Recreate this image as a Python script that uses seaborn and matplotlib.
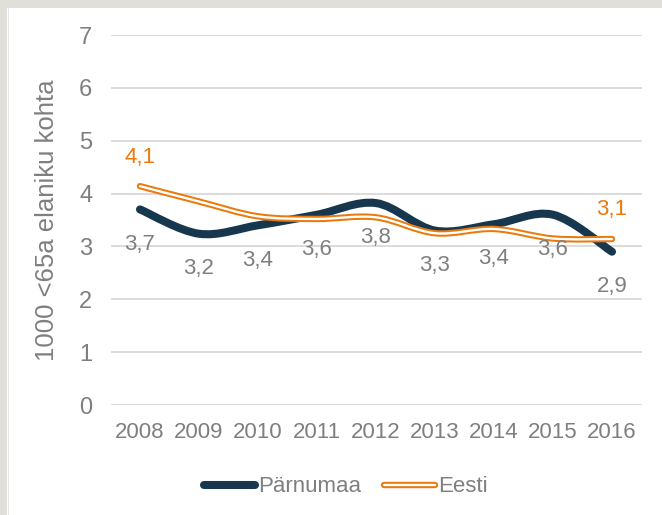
import numpy as np
import pandas as pd
import seaborn as sns
import matplotlib
matplotlib.use("Agg")
import matplotlib.pyplot as plt
from matplotlib.path import Path
from matplotlib.patches import PathPatch, Rectangle
from matplotlib.lines import Line2D
from matplotlib.legend_handler import HandlerTuple

# ---- data ----
years = ["2008", "2009", "2010", "2011", "2012", "2013", "2014", "2015", "2016"]
parnumaa = [3.70, 3.24, 3.40, 3.60, 3.82, 3.30, 3.42, 3.60, 2.90]
eesti = [4.14, 3.85, 3.57, 3.52, 3.55, 3.25, 3.33, 3.15, 3.14]
series_names = ["Pärnumaa", "Eesti"]
y_ticks = [0, 1, 2, 3, 4, 5, 6, 7]
y_label = "1000 <65a elaniku kohta"

df = pd.DataFrame({"year": years, "Pärnumaa": parnumaa, "Eesti": eesti})

# ---- style ----
sns.set_theme(style="white")
plt.rcParams["font.family"] = ["Liberation Sans", "DejaVu Sans"]
GRAY = "#7f7f7f"
NAVY = "#17374f"
ORANGE = "#ea7a0c"

fig = plt.figure(figsize=(6.62, 5.15), dpi=100)
fig.patch.set_facecolor("white")
# frame like the screenshot (gray strip top & left)
fig.patches.append(Rectangle((0, 1 - 8 / 515), 1, 8 / 515, transform=fig.transFigure,
                             facecolor="#e0dfda", edgecolor="none", zorder=0))
fig.patches.append(Rectangle((0, 0), 7 / 662, 1, transform=fig.transFigure,
                             facecolor="#e0dfda", edgecolor="none", zorder=0))
fig.patches.append(Rectangle((8 / 662, 0), 1 / 662, 1 - 8 / 515, transform=fig.transFigure,
                             facecolor="#e6e6e6", edgecolor="none", zorder=0))

ax = fig.add_axes([110.5 / 662, 1 - 405 / 515, 531 / 662, 370 / 515])
ax.set_facecolor("none")

x = np.arange(len(years))


def smooth_path(xs, ys):
    pts = np.column_stack([xs, ys]).astype(float)
    n = len(pts)
    verts = [pts[0]]
    codes = [Path.MOVETO]
    for i in range(n - 1):
        p0 = pts[i - 1] if i > 0 else pts[i]
        p1 = pts[i]
        p2 = pts[i + 1]
        p3 = pts[i + 2] if i + 2 < n else pts[i + 1]
        c1 = p1 + (p2 - p0) / 6.0
        c2 = p2 - (p3 - p1) / 6.0
        verts += [c1, c2, p2]
        codes += [Path.CURVE4] * 3
    return Path(np.array(verts), codes)


p_path = smooth_path(x, df["Pärnumaa"].values)
e_path = smooth_path(x, df["Eesti"].values)

ax.add_patch(PathPatch(p_path, facecolor="none", edgecolor=NAVY, lw=5.8,
                       capstyle="round", joinstyle="round", zorder=3))
ax.add_patch(PathPatch(e_path, facecolor="none", edgecolor=ORANGE, lw=4.6,
                       capstyle="round", joinstyle="round", zorder=4))
ax.add_patch(PathPatch(e_path, facecolor="none", edgecolor="white", lw=1.7,
                       capstyle="round", joinstyle="round", zorder=5))


def fmt(v):
    return f"{v:.1f}".replace(".", ",")


for xi, v in zip(x, df["Pärnumaa"].values):
    ax.annotate(fmt(v), (xi, v), xytext=(0, -25), textcoords="offset points",
                ha="center", va="center", fontsize=16, color=GRAY, zorder=6)
for xi in (x[0], x[-1]):
    v = df["Eesti"].values[xi]
    ax.annotate(fmt(v), (xi, v), xytext=(0, 21), textcoords="offset points",
                ha="center", va="center", fontsize=16, color=ORANGE, zorder=6)

ax.set_xlim(-0.5, len(years) - 0.5)
ax.set_ylim(0, 7)
ax.set_yticks(y_ticks)
ax.set_yticklabels([str(t) for t in y_ticks])
ax.set_xticks(x)
ax.set_xticklabels(years)
ax.grid(axis="y", color="#d9d9d9", lw=1.3)
ax.set_axisbelow(True)
sns.despine(ax=ax, left=True, bottom=True)
ax.tick_params(axis="y", length=0, pad=13, labelsize=17, labelcolor=GRAY)
ax.tick_params(axis="x", length=0, pad=12, labelsize=16, labelcolor=GRAY)
fig.text(47 / 662, 1 - 220 / 515, y_label, rotation=90, ha="center", va="center",
         fontsize=18.5, color=GRAY)

h1 = Line2D([], [], color=NAVY, lw=5.8, solid_capstyle="round")
h2a = Line2D([], [], color=ORANGE, lw=4.6, solid_capstyle="round")
h2b = Line2D([], [], color="white", lw=1.7, solid_capstyle="round")
leg = fig.legend([h1, (h2a, h2b)], series_names, loc="center",
                 bbox_to_anchor=(346 / 662, 1 - 487 / 515), ncol=2, frameon=False,
                 fontsize=16, labelcolor=GRAY, handlelength=2.3, handletextpad=0.15,
                 columnspacing=1.0, handler_map={tuple: HandlerTuple(ndivide=1, pad=0)})

fig.savefig("out.png", dpi=100, facecolor="white")
